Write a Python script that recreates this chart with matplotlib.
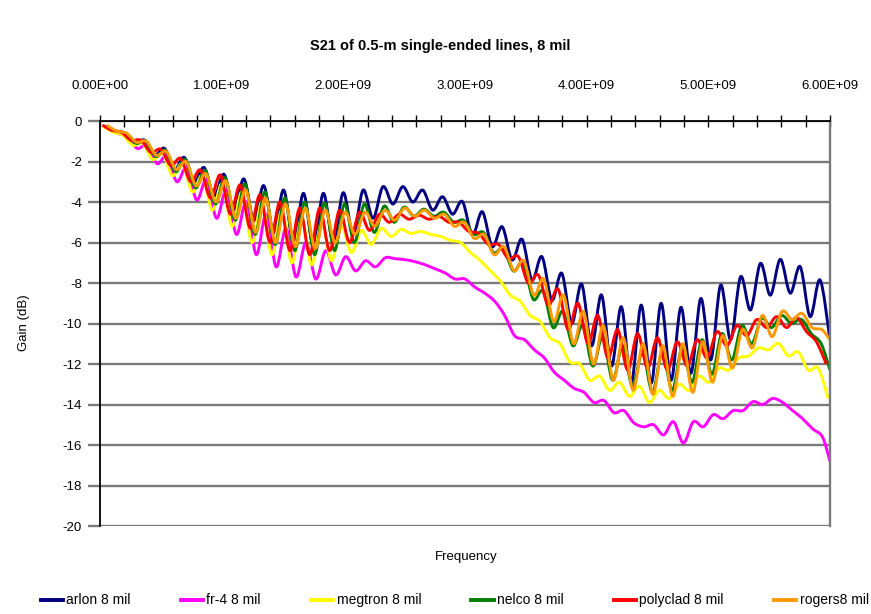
import matplotlib.pyplot as plt
import numpy as np
from matplotlib.ticker import MultipleLocator, FuncFormatter
from matplotlib.path import Path
from matplotlib.patches import PathPatch

plt.rcParams['font.family'] = ['Liberation Sans', 'DejaVu Sans']
plt.rcParams['axes.unicode_minus'] = False

# sample frequencies (GHz), alternating ripple maxima / minima
freq_ghz = np.linspace(0.04, 6.0, 74)

arlon = [-0.25, -0.55, -0.62, -1.15, -0.94, -1.7, -1.35, -2.4, -1.8, -3.0,
         -2.3, -3.7, -2.63, -4.4, -2.86, -4.9, -3.19, -5.5, -3.41, -6.0,
         -3.57, -6.2, -3.57, -6.0, -3.54, -5.6, -3.41, -4.8, -3.24, -4.1,
         -3.24, -4.0, -3.41, -4.4, -3.74, -4.6, -3.98, -5.63, -4.48, -6.2,
         -5.22, -6.86, -5.84, -7.85, -6.7, -8.84, -7.52, -9.99, -8.05, -11.1,
         -8.59, -12.1, -9.17, -12.9, -9.09, -12.95, -9.0, -12.8, -9.2, -12.46,
         -8.76, -11.8, -8.1, -10.8, -7.69, -9.33, -7.03, -8.6, -6.83, -8.5,
         -7.19, -9.66, -7.85, -10.8]

fr4 = [-0.25, -0.6, -0.75, -1.35, -1.2, -2.1, -1.75, -3.0, -2.3, -3.9,
       -2.9, -4.8, -3.4, -5.6, -4.0, -6.6, -4.6, -7.2, -5.3, -7.7,
       -6.0, -7.8, -6.4, -7.6, -6.7, -7.4, -6.9, -7.2, -6.75, -6.8,
       -6.85, -6.95, -7.1, -7.3, -7.5, -7.8, -7.8, -8.2, -8.5, -8.9,
       -9.6, -10.6, -10.8, -11.3, -11.7, -12.4, -12.8, -13.2, -13.4, -13.9,
       -13.8, -14.4, -14.3, -14.9, -15.1, -15.0, -15.5, -14.85, -15.9, -14.85,
       -15.1, -14.5, -14.7, -14.3, -14.3, -13.86, -14.0, -13.7, -13.9, -14.3,
       -14.7, -15.2, -15.6, -16.8]

megtron = [-0.25, -0.55, -0.7, -1.2, -1.1, -1.9, -1.6, -2.7, -2.1, -3.5,
           -2.7, -4.4, -3.1, -5.2, -3.5, -6.0, -4.0, -6.6, -4.4, -7.0,
           -4.8, -7.1, -5.0, -6.9, -5.2, -6.5, -5.4, -6.1, -5.3, -5.7,
           -5.35, -5.55, -5.45, -5.6, -5.7, -5.9, -6.0, -6.5, -6.9, -7.4,
           -7.9, -8.6, -8.9, -9.6, -9.9, -10.7, -11.0, -11.9, -12.0, -12.8,
           -12.6, -13.3, -12.9, -13.6, -13.1, -13.9, -13.3, -13.7, -13.0, -13.3,
           -12.6, -12.9, -12.2, -12.3, -11.7, -11.6, -11.2, -11.3, -10.98, -11.6,
           -11.4, -12.3, -12.2, -13.7]

nelco = [-0.25, -0.5, -0.6, -1.1, -1.0, -1.75, -1.45, -2.5, -1.9, -3.3,
         -2.45, -4.1, -2.8, -4.9, -3.1, -5.6, -3.5, -6.1, -3.8, -6.4,
         -4.0, -6.6, -4.05, -6.4, -4.1, -6.0, -4.1, -5.5, -4.2, -5.0,
         -4.25, -4.7, -4.35, -4.7, -4.5, -5.0, -4.9, -5.6, -5.5, -6.5,
         -6.3, -7.4, -7.0, -8.8, -8.4, -10.2, -9.4, -11.1, -10.1, -12.1,
         -10.65, -12.8, -11.1, -13.1, -11.4, -13.4, -11.4, -13.3, -11.2, -12.9,
         -10.8, -12.5, -10.5, -11.8, -10.1, -11.0, -9.75, -10.2, -9.6, -10.0,
         -9.8, -10.5, -11.0, -12.3]

polyclad = [-0.2, -0.45, -0.55, -0.95, -0.95, -1.55, -1.4, -2.2, -1.85, -3.0,
            -2.42, -3.8, -2.67, -4.6, -3.16, -5.3, -3.65, -6.0, -4.0, -6.4,
            -4.3, -6.6, -4.3, -6.4, -4.4, -6.0, -4.5, -5.4, -4.6, -5.0,
            -4.6, -4.85, -4.65, -4.85, -4.7, -5.0, -5.0, -5.45, -5.55, -6.1,
            -6.1, -6.8, -6.7, -8.0, -7.6, -9.1, -8.3, -10.3, -9.0, -11.0,
            -9.6, -11.7, -10.3, -12.3, -10.5, -12.2, -10.7, -12.3, -10.9, -12.1,
            -10.8, -11.7, -10.4, -11.1, -10.1, -10.6, -9.8, -10.2, -9.66, -10.2,
            -9.7, -10.4, -10.9, -12.0]

rogers = [-0.2, -0.5, -0.6, -1.05, -1.0, -1.7, -1.5, -2.4, -2.0, -3.2,
          -2.6, -4.0, -2.95, -4.8, -3.4, -5.5, -3.8, -6.0, -4.1, -6.2,
          -4.3, -6.3, -4.4, -6.0, -4.5, -5.6, -4.5, -5.2, -4.4, -4.9,
          -4.3, -4.7, -4.4, -4.8, -4.6, -5.2, -5.0, -5.8, -5.6, -6.6,
          -6.2, -7.4, -6.9, -8.6, -7.8, -9.9, -8.6, -11.0, -9.4, -12.0,
          -10.1, -12.8, -10.7, -13.3, -11.0, -13.5, -11.1, -13.6, -11.0, -13.4,
          -10.9, -12.9, -10.6, -12.2, -10.3, -11.2, -9.6, -10.65, -9.4, -9.8,
          -9.5, -10.2, -10.3, -10.8]

labels = ["arlon 8 mil", "fr-4 8 mil", "megtron 8 mil", "nelco 8 mil",
          "polyclad 8 mil", "rogers8 mil"]
gains = [arlon, fr4, megtron, nelco, polyclad, rogers]
colors = ["#000080", "#ff00ff", "#ffff00", "#008000", "#ff0000", "#ff9900"]
# small frequency offset of each line's ripple (GHz)
offsets = [0.0, 0.02, -0.015, 0.01, -0.03, 0.015]


def smooth_path(x, y):
    # smoothed line through every point (Catmull-Rom as cubic Bezier)
    p = np.column_stack([x, y])
    n = len(p)
    verts = [p[0]]
    codes = [Path.MOVETO]
    for i in range(n - 1):
        p0 = p[max(i - 1, 0)]
        p1 = p[i]
        p2 = p[i + 1]
        p3 = p[min(i + 2, n - 1)]
        verts += [p1 + (p2 - p0) / 6, p2 - (p3 - p1) / 6, p2]
        codes += [Path.CURVE4] * 3
    return Path(verts, codes)


fig = plt.figure(figsize=(8.71, 6.14), dpi=100)
ax = fig.add_axes([0.1148, 0.1433, 0.8381, 0.6596])

for name, vals, col, off in zip(labels, gains, colors, offsets):
    f = np.clip(freq_ghz + off, 0.02, 6.0) * 1e9
    ax.add_patch(PathPatch(smooth_path(f, np.array(vals)), facecolor='none',
                           edgecolor=col, lw=2.1, joinstyle='round'))
    ax.plot([], [], color=col, lw=2.8, label=name)

ax.set_xlim(0, 6e9)
ax.set_ylim(-20, 0)
ax.yaxis.set_major_locator(MultipleLocator(2))
ax.yaxis.grid(True, color='#7a7a7a', lw=1.7)
ax.set_axisbelow(True)

ax.xaxis.tick_top()
ax.xaxis.set_major_locator(MultipleLocator(1e9))
ax.xaxis.set_minor_locator(MultipleLocator(2e8))
ax.xaxis.set_major_formatter(FuncFormatter(lambda v, p: '%.2E' % v))
ax.tick_params(axis='x', which='both', direction='inout', length=8,
               width=1, pad=17, labelsize=9.5)
ax.tick_params(axis='y', direction='out', length=9, width=1.7,
               color='#7a7a7a', labelsize=9.5, pad=4)

ax.spines['bottom'].set_visible(False)
ax.spines['right'].set_color('#7a7a7a')
ax.spines['right'].set_linewidth(1.7)
ax.spines['top'].set_linewidth(1.3)
ax.spines['left'].set_linewidth(1.3)

fig.text(0.505, 0.925, "S21 of 0.5-m single-ended lines, 8 mil",
         ha='center', va='center', fontsize=10.5, fontweight='bold')
fig.text(0.027, 0.474, "Gain (dB)", rotation=90, ha='center', va='center',
         fontsize=9.5)
fig.text(0.535, 0.093, "Frequency", ha='center', va='center', fontsize=9.5)

fig.legend(loc='center', bbox_to_anchor=(0.522, 0.022), ncol=6,
           frameon=False, fontsize=10, handlelength=1.6, columnspacing=3.6,
           handletextpad=0.25)

plt.savefig("out.png", dpi=100)
